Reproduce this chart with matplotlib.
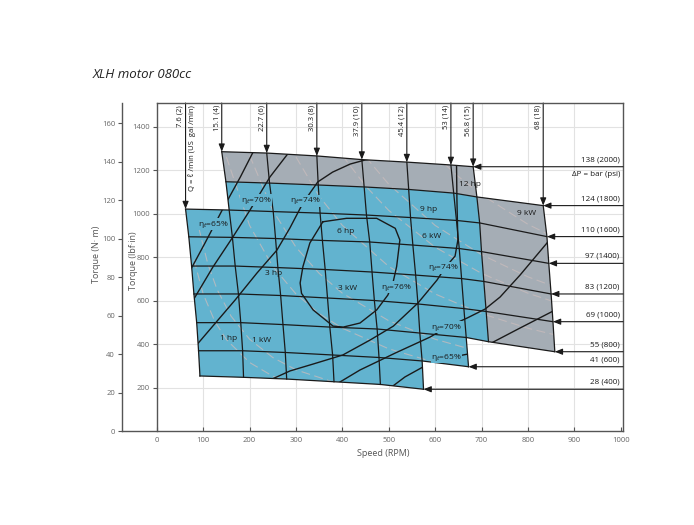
import matplotlib
matplotlib.use('Agg')
import matplotlib.pyplot as plt
from matplotlib.patches import Polygon

plt.rcParams['font.family'] = ['Open Sans', 'DejaVu Sans']

# flow lines  Q = l/min (US gal/min)
flow_labels = ['7.6 (2)', '15.1 (4)', '22.7 (6)', '30.3 (8)', '37.9 (10)',
               '45.4 (12)', '53 (14)', '56.8 (15)', '68 (18)']
# pressure lines  dP = bar (psi)
pressure_labels = ['28 (400)', '41 (600)', '55 (800)', '69 (1000)', '83 (1200)',
                   '97 (1400)', '110 (1600)', '124 (1800)', '138 (2000)']

# speed (rpm) of every flow line at each pressure (28 ... 138 bar)
flow_speed = [
    [93, 90, 86, 80, 75, 69, 62, None, None],
    [187, 185, 181, 176, 169, 163, 156, 149, 140],
    [280, 277, 272, 267, 261, 256, 251, 243, 237],
    [382, 379, 373, 368, 363, 357, 352, 348, 345],
    [482, 479, 475, 469, 464, 459, 452, 447, 442],
    [575, 572, 567, 563, 558, 552, 547, 543, 539],
    [None, 672, 667, 662, 657, 652, 646, 640, 634],
    [None, None, 715, 710, 705, 700, 696, 690, 682],
    [None, None, 858, 854, 850, 845, 841, 833, None],
]
# torque (N-m) of every pressure line at each flow (7.6 ... 68 l/min)
pressure_torque = [
    [28.6, 27.9, 27.0, 25.6, 24.2, 21.7, None, None, None],
    [41.7, 41.7, 40.8, 39.5, 38.2, 36.4, 33.4, None, None],
    [56.3, 56.3, 55.3, 54.0, 53.0, 50.9, 48.6, 46.4, 41.2],
    [71.2, 71.2, 70.4, 69.1, 67.8, 66.0, 63.6, 62.1, 56.8],
    [85.7, 85.7, 84.9, 83.9, 82.6, 81.0, 79.2, 77.7, 71.2],
    [100.9, 100.6, 100.0, 99.0, 98.2, 96.6, 94.8, 93.2, 87.1],
    [115.3, 114.8, 114.0, 113.2, 112.2, 110.9, 109.4, 108.1, 101.0],
    [None, 129.5, 128.8, 127.8, 126.8, 125.5, 123.6, 121.6, 117.1],
    [None, 145.1, 144.4, 142.9, 141.0, 139.7, 138.2, 137.3, None],
]

# efficiency contours (speed, torque)
eff_curves = {
    '65L': ([70, 104, 141, 180, 212], [82.5, 97.7, 114.8, 131.9, 147]),
    '70L': ([76, 121, 164, 201, 244, 292], [67, 85.2, 100.8, 114.8, 132, 147]),
    '74L': ([82, 169, 216, 259, 287, 315, 347, 379, 417, 449, 482],
            [43.6, 68.1, 82.1, 94, 105.5, 118.4, 129.4, 134.5, 138.7, 140.8, 141.8]),
    '74R': ([646, 647, 649, 643, 621, 604, 563, 510, 460, 401, 337, 287, 244],
            [141, 120, 99.2, 90.9, 84.7, 78.4, 66.5, 54.5, 47.3, 39.5, 34.8, 31.2, 26.5]),
    '70R': ([852, 783, 740, 708, 669, 626, 589, 514, 438, 384],
            [100.8, 81, 69.6, 63.4, 58.7, 54, 48.8, 40.5, 31.7, 23.9]),
    '65R': ([863, 783, 725, 671, 626, 589, 535, 492],
            [63.4, 53.5, 46.2, 40, 37.9, 35.3, 28.1, 20.3]),
    '76': ([358, 409, 474, 514, 524, 517, 509, 498, 474, 438, 402, 380, 337, 312, 309, 315, 330, 358],
           [108.7, 110.5, 110.5, 105.3, 99.2, 85.4, 76.9, 70.6, 62.9, 56.1, 54.0, 54.5, 62.9, 71.5, 76.9, 85.4, 97.7, 108.7]),
}
eff_labels = [('65', 121, 107.5), ('70', 214, 120), ('74', 320, 119.5), ('76', 516, 74.8),
              ('74', 617, 84.7), ('70', 624, 54), ('65', 624, 38.4)]

# constant power lines (speed, torque)
power_curves = [
    ([80, 100, 125, 150, 200, 250, 300], [89, 71.2, 57, 47.5, 35.6, 28.5, 23.7]),
    ([90, 110, 130, 160, 200, 250, 300, 400], [106, 86.8, 73.5, 59.7, 47.7, 38.2, 31.8, 23.9]),
    ([150, 200, 250, 300, 350, 400, 500, 600, 700], [142.4, 106.8, 85.5, 71.2, 61, 53.4, 42.7, 35.6, 30.5]),
    ([200, 250, 300, 350, 400, 500, 600, 700, 800], [143.2, 114.6, 95.5, 81.9, 71.6, 57.3, 47.7, 40.9, 35.8]),
    ([300, 350, 400, 500, 600, 700, 800, 900], [142.4, 122, 106.8, 85.5, 71.2, 61, 53.4, 47.5]),
    ([400, 450, 500, 600, 700, 800, 900], [143.2, 127.3, 114.6, 95.5, 81.9, 71.6, 63.7]),
    ([450, 500, 600, 700, 800, 900], [142.4, 128.2, 106.8, 91.6, 80.1, 71.2]),
    ([600, 650, 700, 800, 900], [143.2, 132.2, 122.8, 107.4, 95.5]),
]
power_labels = [('1 hp', 154, 48.3), ('1 kW', 225, 46.8), ('3 hp', 251, 81.6), ('3 kW', 412, 73.8),
                ('6 hp', 406, 103.9), ('6 kW', 593, 100.8), ('9 hp', 585, 115.3),
                ('9 kW', 798, 113.2), ('12 hp', 675, 128.3)]

NM_PER_LBFIN = 0.112985
XMIN, XMAX, YMAX = -75, 1005, 170.4
BLUE = '#62b3cf'
GRAY = '#a5adb5'
INK = '#1a1a1a'
AX = '#555555'


def node(f, p):
    return flow_speed[f][p], pressure_torque[p][f]


def walk(corners):
    pts = []
    for (f0, p0), (f1, p1) in zip(corners[:-1], corners[1:]):
        if f0 == f1:
            st = 1 if p1 > p0 else -1
            pts += [node(f0, p) for p in range(p0, p1, st)]
        else:
            st = 1 if f1 > f0 else -1
            pts += [node(f, p0) for f in range(f0, f1, st)]
    pts.append(node(*corners[-1]))
    return pts


blue_c = [(0, 6), (1, 6), (1, 7), (7, 7), (7, 2), (6, 2), (6, 1), (5, 1), (5, 0), (0, 0), (0, 6)]
gray_top_c = [(1, 8), (7, 8), (7, 7), (1, 7), (1, 8)]
gray_right_c = [(7, 7), (8, 7), (8, 2), (7, 2), (7, 7)]
hull_c = [(0, 6), (1, 6), (1, 8), (7, 8), (7, 7), (8, 7), (8, 2), (6, 2), (6, 1), (5, 1), (5, 0), (0, 0), (0, 6)]

fig = plt.figure(figsize=(6.94, 5.25), dpi=100)
ax = fig.add_axes([0.1758, 0.179, 0.7219, 0.6248])
ax.set_xlim(XMIN, XMAX)
ax.set_ylim(0, YMAX)

# grid
for s in range(100, 1000, 100):
    ax.plot([s, s], [0, YMAX], color='#e2e2e2', lw=0.8, zorder=0)
for v in range(200, 1401, 200):
    ax.plot([0, XMAX], [v * NM_PER_LBFIN] * 2, color='#e2e2e2', lw=0.8, zorder=0)

# regions
ax.add_patch(Polygon(walk(gray_top_c), closed=True, fc=GRAY, ec='none', zorder=1))
ax.add_patch(Polygon(walk(gray_right_c), closed=True, fc=GRAY, ec='none', zorder=1))
ax.add_patch(Polygon(walk(blue_c), closed=True, fc=BLUE, ec='none', zorder=1))
hull = Polygon(walk(hull_c), closed=True, fc='none', ec='none', transform=ax.transData)
ax.add_patch(hull)

for xs, ys in power_curves:
    for ln in ax.plot(xs, ys, color='#c9bcbc', lw=0.8, alpha=0.75, dashes=(8, 4), zorder=2):
        ln.set_clip_path(hull)

# mesh
for f in range(9):
    pts = [node(f, p) for p in range(9) if flow_speed[f][p] is not None]
    ax.plot([a for a, b in pts], [b for a, b in pts], color=INK, lw=0.9, zorder=3)
for p in range(9):
    pts = [node(f, p) for f in range(9) if pressure_torque[p][f] is not None]
    ax.plot([a for a, b in pts], [b for a, b in pts], color=INK, lw=0.9, zorder=3)

for xs, ys in eff_curves.values():
    for ln in ax.plot(xs, ys, color=INK, lw=1.0, zorder=3):
        ln.set_clip_path(hull)

arrow = dict(arrowstyle='-|>,head_length=0.45,head_width=0.18', color=INK, lw=0.8,
             shrinkA=0, shrinkB=0)

# flow arrows from the top
for f, lab in enumerate(flow_labels):
    ps = [p for p in range(9) if flow_speed[f][p] is not None]
    s, t = node(f, ps[-1])
    ax.annotate('', xy=(s, t), xytext=(s, YMAX), arrowprops=arrow, zorder=4, annotation_clip=False)
    ax.annotate(lab, xy=(s, YMAX), xytext=(-1.2, -1.5), textcoords='offset points',
                rotation=90, ha='right', va='top', fontsize=5.5, color=INK)
    if f == 0:
        ax.annotate('Q = ℓ /min (US  gal /min)', xy=(s, YMAX), xytext=(1.5, -1.5),
                    textcoords='offset points', rotation=90, ha='left', va='top',
                    fontsize=5.5, color=INK)

# pressure arrows from the right
for p, lab in enumerate(pressure_labels):
    fs = [f for f in range(9) if pressure_torque[p][f] is not None]
    s, t = node(fs[-1], p)
    ax.annotate('', xy=(s, t), xytext=(XMAX, t), arrowprops=arrow, zorder=4, annotation_clip=False)
    ax.annotate(lab, xy=(XMAX, t), xytext=(-2.5, 2.5), textcoords='offset points',
                ha='right', va='bottom', fontsize=5.8, color=INK)
ax.text(XMAX - 5, 133, 'ΔP = bar (psi)', ha='right', va='center', fontsize=5.8, color=INK)

for txt, s, t in eff_labels:
    ax.text(s, t, 'η$_t$=' + txt + '%', ha='center', va='center', fontsize=6, color=INK, zorder=5,
            bbox=dict(boxstyle='square,pad=0.05', fc=BLUE, ec='none'))
for txt, s, t in power_labels:
    ax.text(s, t, txt, ha='center', va='center', fontsize=6, color=INK, zorder=5)

# axes frame
for side in ['left', 'bottom', 'right']:
    ax.spines[side].set_color(AX)
    ax.spines[side].set_linewidth(1.0)
ax.spines['top'].set_visible(False)
ax.plot([0, XMAX], [YMAX, YMAX], color=AX, lw=1.0, clip_on=False, zorder=6)

ax.set_xticks(range(0, 1001, 100))
ax.set_yticks(range(0, 161, 20))
ax.tick_params(axis='x', direction='in', length=3, width=0.8, color=AX, labelsize=5.5,
               labelcolor='#666666', pad=4)
ax.tick_params(axis='y', direction='out', length=3, width=0.8, color=AX, labelsize=5.5,
               labelcolor='#666666', pad=2)

ax2 = ax.twinx()
ax2.set_ylim(0, YMAX / NM_PER_LBFIN)
for side in ['right', 'top', 'bottom']:
    ax2.spines[side].set_visible(False)
ax2.spines['left'].set_visible(True)
ax2.spines['left'].set_position(('data', 0))
ax2.spines['left'].set_color(AX)
ax2.spines['left'].set_linewidth(1.0)
ax2.yaxis.set_ticks_position('left')
ax2.set_yticks(range(200, 1401, 200))
ax2.tick_params(axis='y', direction='out', length=3, width=0.8, color=AX, labelsize=5.5,
                labelcolor='#666666', pad=2)

ax.text(-0.05, 0.54, 'Torque (N· m)', transform=ax.transAxes, rotation=90,
        ha='center', va='center', fontsize=6.5, color='#555555')
ax.text(0.022, 0.52, 'Torque (lbf·in)', transform=ax.transAxes, rotation=90,
        ha='center', va='center', fontsize=6.5, color='#555555')
ax.text(0.521, -0.067, 'Speed (RPM)', transform=ax.transAxes, ha='center', va='center',
        fontsize=6.5, color='#555555')

fig.text(93 / 694, 1 - 75 / 525, 'XLH motor 080cc', fontsize=9.5, style='italic',
         ha='left', va='center', color='#222222')

fig.savefig('out.png', dpi=100)
